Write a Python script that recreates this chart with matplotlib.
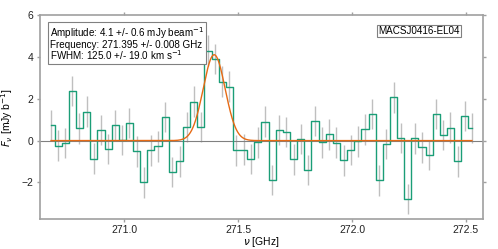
import numpy as np
import matplotlib
matplotlib.use('Agg')
import matplotlib.pyplot as plt

plt.rcParams['font.family'] = ['Liberation Sans', 'DejaVu Sans']
plt.rcParams['mathtext.fontset'] = 'dejavusans'

# channel centres (GHz) and flux per channel (mJy/beam)
freq = [270.679, 270.710, 270.742, 270.773, 270.804, 270.836, 270.867, 270.898,
        270.930, 270.961, 270.992, 271.023, 271.055, 271.086, 271.117, 271.149,
        271.180, 271.211, 271.243, 271.274, 271.305, 271.337, 271.368, 271.399,
        271.430, 271.462, 271.493, 271.524, 271.556, 271.587, 271.618, 271.650,
        271.681, 271.712, 271.744, 271.775, 271.806, 271.838, 271.869, 271.900,
        271.931, 271.963, 271.994, 272.025, 272.057, 272.088, 272.119, 272.151,
        272.182, 272.213, 272.245, 272.276, 272.307, 272.339, 272.370, 272.401,
        272.432, 272.464, 272.495, 272.526]
flux = [0.75, -0.24, -0.11, 2.37, 0.59, 1.38, -0.86, 0.50, -0.40, 0.75,
        0.03, 0.85, -0.51, -2.00, -0.47, -0.27, 1.12, -1.50, -0.99, 0.64,
        1.86, 0.64, 4.30, 3.89, 2.82, 2.57, -0.47, -0.43, -0.88, -0.08,
        0.90, -1.89, 0.50, 0.40, -0.90, 0.08, -1.41, 0.93, -0.08, 0.30,
        -0.10, -0.94, -0.45, -0.03, 0.53, 1.26, -1.90, -0.16, 2.06, 0.13,
        -2.78, 0.10, -0.32, -0.69, 1.26, 0.27, 0.62, -0.99, 1.17, 0.61]
rms = 0.73

# gaussian fit
amp = 4.1
amp_err = 0.6
nu0 = 271.395
nu0_err = 0.008
fwhm_kms = 125.0
fwhm_err = 19.0
name = 'MACSJ0416-EL04'

freq = np.array(freq)
flux = np.array(flux)
fwhm_ghz = fwhm_kms / 299792.458 * nu0
sig = fwhm_ghz / (2 * np.sqrt(2 * np.log(2)))
xx = np.linspace(freq[0], freq[-1], 1000)
model = amp * np.exp(-0.5 * ((xx - nu0) / sig) ** 2)

fig = plt.figure(figsize=(4.98, 2.49), dpi=100)
ax = fig.add_axes([0.080, 0.120, 0.890, 0.820])

ax.axhline(0, color='grey', lw=0.8, zorder=1)
ax.errorbar(freq, flux, yerr=rms, fmt='none', ecolor='grey', alpha=0.5, elinewidth=1.0, zorder=2)
ax.step(freq, flux, where='mid', color='#1b9e77', lw=1.0, zorder=3)
ax.plot(xx, model, color='#e66a14', lw=1.0, zorder=4)

ax.set_xlim(270.63, 272.575)
ax.set_ylim(-3.75, 6)
ax.set_yticks([-2, 0, 2, 4, 6])
ax.set_xticks([271.0, 271.5, 272.0, 272.5])
ax.set_xlabel(r'$\nu$ [GHz]', fontsize=7.5, labelpad=0)
ax.set_ylabel(r'$F_\nu$ [mJy b$^{-1}$]', fontsize=7.5, labelpad=5)

for s in ax.spines.values():
    s.set_color('#a0a0a0')
    s.set_linewidth(1.2)
ax.tick_params(direction='out', length=2.5, width=1, color='#a0a0a0', labelsize=7.5,
               labelcolor='#222222', top=True, right=True, pad=2)

txt = ('Amplitude: %.1f +/- %.1f mJy beam$^{-1}$\n'
       'Frequency: %.3f +/- %.3f GHz\n'
       'FWHM: %.1f +/- %.1f km s$^{-1}$') % (amp, amp_err, nu0, nu0_err, fwhm_kms, fwhm_err)
ax.text(0.022, 0.948, txt, transform=ax.transAxes, fontsize=7.1, va='top', ha='left',
        linespacing=0.85,
        bbox=dict(boxstyle='square,pad=0.2', fc='white', ec='grey', lw=0.8))
ax.text(0.947, 0.945, name, transform=ax.transAxes, fontsize=7.1, va='top', ha='right',
        bbox=dict(boxstyle='square,pad=0.12', fc='white', ec='grey', lw=0.8))

fig.savefig('out.png', dpi=100)
